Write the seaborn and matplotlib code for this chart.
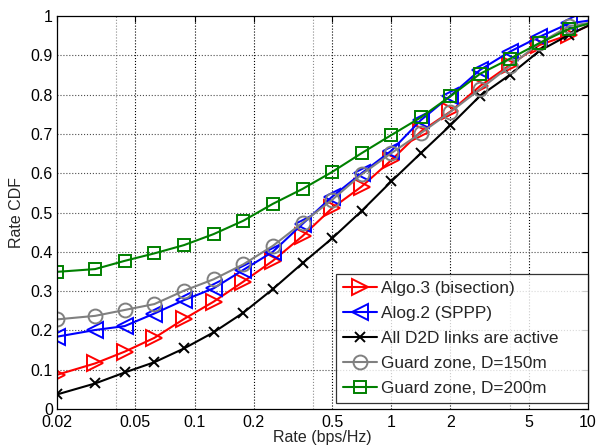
import numpy as np
import pandas as pd
import matplotlib
matplotlib.use("Agg")
import matplotlib.pyplot as plt
import seaborn as sns

# rate grid (bps/Hz), last point at 10 is drawn without marker
rate = [0.02, 0.03125, 0.0442, 0.0625, 0.0884, 0.125, 0.177, 0.25, 0.354, 0.5,
        0.707, 1.0, 1.414, 2.0, 2.83, 4.0, 5.66, 8.0, 10.0]

algo3 = [0.087, 0.116, 0.146, 0.181, 0.229, 0.273, 0.324, 0.377, 0.440, 0.511,
         0.566, 0.633, 0.706, 0.757, 0.822, 0.875, 0.926, 0.952, 0.975]
alog2 = [0.184, 0.201, 0.211, 0.243, 0.277, 0.307, 0.354, 0.400, 0.471, 0.540,
         0.600, 0.657, 0.735, 0.797, 0.863, 0.909, 0.947, 0.981, 0.988]
all_active = [0.037, 0.065, 0.093, 0.119, 0.154, 0.195, 0.245, 0.305, 0.371, 0.434,
              0.504, 0.579, 0.651, 0.722, 0.797, 0.850, 0.911, 0.952, 0.975]
guard150 = [0.228, 0.237, 0.252, 0.267, 0.301, 0.330, 0.368, 0.415, 0.474, 0.532,
            0.597, 0.651, 0.702, 0.756, 0.814, 0.872, 0.931, 0.974, 0.982]
guard200 = [0.349, 0.356, 0.377, 0.396, 0.417, 0.445, 0.479, 0.522, 0.560, 0.603,
            0.651, 0.697, 0.742, 0.796, 0.853, 0.891, 0.931, 0.967, 0.980]

labels = ["Algo.3 (bisection)", "Alog.2 (SPPP)", "All D2D links are active",
          "Guard zone, D=150m", "Guard zone, D=200m"]

sns.set_style("white")
plt.rcParams['font.family'] = ['Liberation Sans', 'DejaVu Sans']
plt.rcParams['font.size'] = 11.5

fig = plt.figure(figsize=(5.98, 4.47), dpi=100)
ax = fig.add_axes([57/598, 1-409/447, 531/598, 393/447])

# grid first so it sits below the curves
for v in [0.04, 0.4, 4]:
    ax.axvline(v, color='0.55', linestyle=':', linewidth=0.8, zorder=0)
for v in [0.05, 0.1, 0.2, 0.5, 1, 2, 5]:
    ax.axvline(v, color='black', linestyle=':', linewidth=0.8, zorder=0)
for v in np.arange(0.1, 1.0, 0.1):
    ax.axhline(v, color='0.3', linestyle=':', linewidth=0.8, zorder=0)

styles = [
    (algo3, 'red', '>', 11),
    (alog2, 'blue', '<', 11),
    (all_active, 'black', 'x', 7),
    (guard150, 'gray', 'o', 10),
    (guard200, 'green', 's', 8.5),
]
mark_idx = list(range(len(rate) - 1))
for (vals, col, mk, ms), lab in zip(styles, labels):
    df = pd.DataFrame({'Rate': rate, 'CDF': vals})
    sns.lineplot(data=df, x='Rate', y='CDF', ax=ax, color=col, marker=mk,
                 markersize=ms, markerfacecolor='none', markeredgecolor=col,
                 markeredgewidth=1.4, linewidth=1.5, markevery=mark_idx,
                 label=lab)

ax.set_xscale('log')
ax.set_xlim(0.02, 10)
ax.set_ylim(0, 1)
xt = [0.02, 0.05, 0.1, 0.2, 0.5, 1, 2, 5, 10]
ax.set_xticks(xt)
ax.set_xticklabels(['0.02', '0.05', '0.1', '0.2', '0.5', '1', '2', '5', '10'])
ax.minorticks_off()
yt = np.round(np.arange(0, 1.01, 0.1), 1)
ax.set_yticks(yt)
ax.set_yticklabels(['0'] + [f'{v:g}' for v in yt[1:-1]] + ['1'])
ax.tick_params(axis='x', pad=4)
ax.tick_params(axis='y', pad=3)
ax.tick_params(direction='in', top=True, right=True, length=4, width=0.8,
               labelsize=11.5, colors='black')
for s in ax.spines.values():
    s.set_color('black')
    s.set_linewidth(0.9)

ax.set_xlabel('Rate (bps/Hz)', fontsize=11.5, labelpad=0)
ax.set_ylabel('Rate CDF', fontsize=11.5, labelpad=5)

# matlab-style legend box: wide, text left aligned, right padding
leg = ax.legend(loc='lower left', mode='expand',
                bbox_to_anchor=((336-57)/531, 6/393, (588-336)/531, 0.1),
                borderaxespad=0, frameon=True, fancybox=False, fontsize=12.4,
                handlelength=2.0, handletextpad=0.2, labelspacing=0.58,
                borderpad=0.4)
leg.get_frame().set_edgecolor('black')
leg.get_frame().set_linewidth(0.9)

fig.savefig('out.png', dpi=100)
